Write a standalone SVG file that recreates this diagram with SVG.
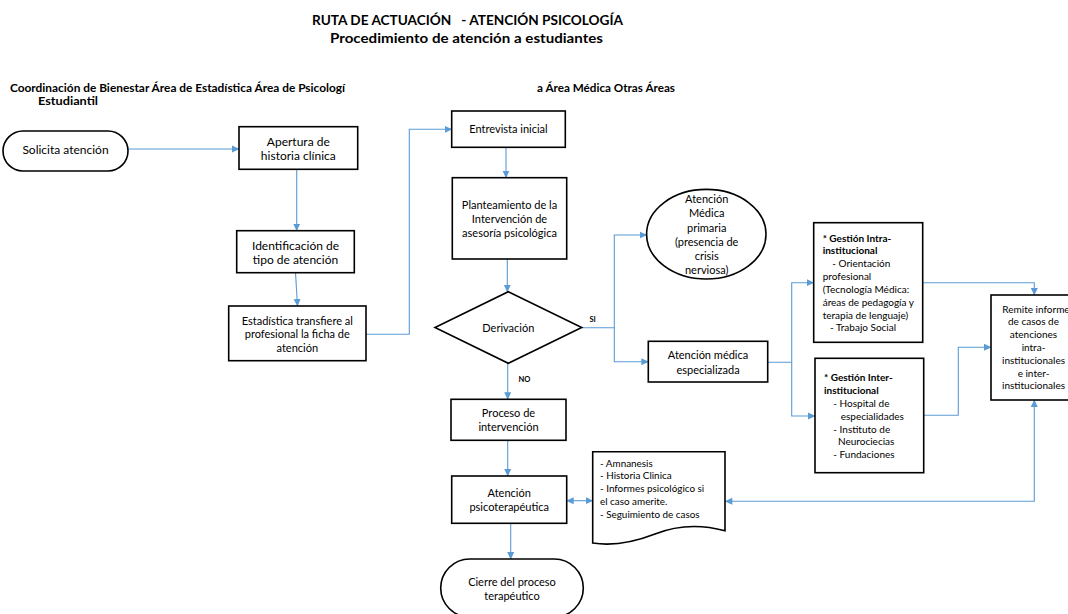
<svg xmlns="http://www.w3.org/2000/svg" width="1068" height="614" viewBox="0 0 1068 614">
  <style>
    text { font-family: Lato, "Liberation Sans", "DejaVu Sans", sans-serif; fill: #000; }
    .t { font-size: 11px; text-anchor: middle; }
    .l { font-size: 12px; text-anchor: middle; }
    .s { font-size: 10px; }
    .d { font-size: 9.9px; }
    .b { font-weight: bold; }
    .title { font-size: 13.5px; font-weight: bold; text-anchor: middle; white-space: pre; }
    .hdr { font-size: 11.5px; font-weight: bold; }
    .lbl { font-size: 7.5px; font-weight: bold; }
    .box { fill: #fff; stroke: #000; stroke-width: 1.6; }
    .con { fill: none; stroke: #5b9bd5; stroke-width: 1.1; }
  </style>
  <defs>
    <marker id="arr" markerWidth="8" markerHeight="8" refX="7" refY="4" orient="auto" markerUnits="userSpaceOnUse">
      <path d="M0,0.5 L7.5,4 L0,7.5 Z" fill="#5b9bd5"/>
    </marker>
    <marker id="arrS" markerWidth="8" markerHeight="8" refX="0.5" refY="4" orient="auto" markerUnits="userSpaceOnUse">
      <path d="M7.5,0.5 L0,4 L7.5,7.5 Z" fill="#5b9bd5"/>
    </marker>
  </defs>

  <rect width="1068" height="614" fill="#fff"/>

  <!-- headings -->
  <g id="titulo">
    <text class="title" x="467.5" y="25" xml:space="preserve" textLength="311" lengthAdjust="spacingAndGlyphs">RUTA DE ACTUACIÓN   - ATENCIÓN PSICOLOGÍA</text>
    <text class="title" x="466.5" y="43" textLength="273" lengthAdjust="spacingAndGlyphs">Procedimiento de atención a estudiantes</text>
  </g>
  <g id="carriles">
    <text class="hdr" x="10" y="92" textLength="335" lengthAdjust="spacingAndGlyphs">Coordinación de Bienestar Área de Estadística Área de Psicologí</text>
    <text class="hdr" x="38" y="105" textLength="60" lengthAdjust="spacingAndGlyphs">Estudiantil</text>
    <text class="hdr" x="537" y="92" textLength="138" lengthAdjust="spacingAndGlyphs">a Área Médica Otras Áreas</text>
  </g>

  <!-- connectors -->
  <g id="conectores">
    <path class="con" d="M128,149 H239" marker-end="url(#arr)"/>
    <path class="con" d="M296.7,169.3 V230.7" marker-end="url(#arr)"/>
    <path class="con" d="M295.5,272.7 L297.5,306" marker-end="url(#arr)"/>
    <path class="con" d="M366,334.3 H409.3 V129.3 H451.7" marker-end="url(#arr)"/>
    <path class="con" d="M506,147.3 V177.7" marker-end="url(#arr)"/>
    <path class="con" d="M507.3,259 V291.7" marker-end="url(#arr)"/>
    <path class="con" d="M581.7,327.7 H614.3 V235 H646.7" marker-end="url(#arr)"/>
    <path class="con" d="M614.3,327.7 V361.7 H648.3" marker-end="url(#arr)"/>
    <path class="con" d="M507.7,363.3 V399.3" marker-end="url(#arr)"/>
    <path class="con" d="M767.7,362.3 H791.7 V282.7 H813.7" marker-end="url(#arr)"/>
    <path class="con" d="M791.7,362.3 V416 H815" marker-end="url(#arr)"/>
    <path class="con" d="M922.7,282.7 H1034.3 V295" marker-end="url(#arr)"/>
    <path class="con" d="M923.7,415.3 H958.3 V347.3 H991" marker-end="url(#arr)"/>
    <path class="con" d="M725.3,501.3 H1034.3 V400" marker-start="url(#arrS)" marker-end="url(#arr)"/>
    <path class="con" d="M507.7,440.3 V476" marker-end="url(#arr)"/>
    <path class="con" d="M566.7,500.7 H592.7" marker-start="url(#arrS)" marker-end="url(#arr)"/>
    <path class="con" d="M510.7,523.3 V559" marker-end="url(#arr)"/>
    <text class="lbl" x="589.5" y="322">SI</text>
    <text class="lbl" x="518.5" y="382">NO</text>
  </g>

  <!-- nodes -->
  <g id="solicita">
    <rect class="box" x="3" y="131" width="125" height="40" rx="20"/>
    <text class="l" x="65.5" y="154">Solicita atención</text>
  </g>
  <g id="apertura">
    <rect class="box" x="239" y="126.7" width="118.7" height="42.6"/>
    <text class="l" x="298.3" y="145.8">Apertura de</text>
    <text class="l" x="298.3" y="160">historia clínica</text>
  </g>
  <g id="identificacion">
    <rect class="box" x="236.7" y="230.7" width="117.6" height="42"/>
    <text class="l" x="295.5" y="250">Identificación de</text>
    <text class="l" x="295.5" y="264.4">tipo de atención</text>
  </g>
  <g id="estadistica">
    <rect class="box" x="228.7" y="306" width="137.3" height="54.7"/>
    <text class="t" x="297.3" y="324.6">Estadística transfiere al</text>
    <text class="t" x="297.3" y="338.2">profesional la ficha de</text>
    <text class="t" x="297.3" y="351.9">atención</text>
  </g>
  <g id="entrevista">
    <rect class="box" x="451.7" y="111" width="113.6" height="36.3"/>
    <text class="t" x="508.5" y="133.2">Entrevista inicial</text>
  </g>
  <g id="planteamiento">
    <rect class="box" x="452.3" y="177.7" width="114.4" height="81.3"/>
    <text class="t" x="509.5" y="208.9">Planteamiento de la</text>
    <text class="t" x="509.5" y="223.2">Intervención de</text>
    <text class="t" x="509.5" y="237.2">asesoría psicológica</text>
  </g>
  <g id="derivacion">
    <path class="box" d="M508.3,291.7 L581.7,327.5 L508.3,363.3 L435,327.5 Z"/>
    <text class="t" x="508.3" y="332.2">Derivación</text>
  </g>
  <g id="atencion-primaria">
    <ellipse class="box" cx="706.3" cy="234.2" rx="59.7" ry="44.8"/>
    <text class="t" x="706.7" y="202.9">Atención</text>
    <text class="t" x="706.7" y="217.2">Médica</text>
    <text class="t" x="706.7" y="232.2">primaria</text>
    <text class="t" x="706.7" y="246.2">(presencia de</text>
    <text class="t" x="706.7" y="260.2">crisis</text>
    <text class="t" x="706.7" y="273.9">nerviosa)</text>
  </g>
  <g id="atencion-especializada">
    <rect class="box" x="648.3" y="341.3" width="119.4" height="40.7"/>
    <text class="t" x="708" y="358.9">Atención médica</text>
    <text class="t" x="708" y="374.2">especializada</text>
  </g>
  <g id="gestion-intra">
    <rect class="box" x="813.7" y="222.7" width="109" height="119.6"/>
    <text class="s b" x="822.7" y="242.2">* Gestión Intra-</text>
    <text class="s b" x="822.7" y="254.2">institucional</text>
    <text class="s" x="832.3" y="267.2">- Orientación</text>
    <text class="s" x="822.7" y="280.2">profesional</text>
    <text class="s" x="822.7" y="293.2">(Tecnología Médica:</text>
    <text class="s" x="822.7" y="306.2">áreas de pedagogía y</text>
    <text class="s" x="822.7" y="318.5">terapia de lenguaje)</text>
    <text class="s" x="830" y="331.2">- Trabajo Social</text>
  </g>
  <g id="gestion-inter">
    <rect class="box" x="815" y="358.3" width="108.7" height="114.4"/>
    <text class="s b" x="824" y="381.2">* Gestión Inter-</text>
    <text class="s b" x="824" y="394.2">institucional</text>
    <text class="s" x="833.3" y="407.2">- Hospital de</text>
    <text class="s" x="840.7" y="420.2">especialidades</text>
    <text class="s" x="833.3" y="433.2">- Instituto de</text>
    <text class="s" x="838" y="445.2">Neurociecias</text>
    <text class="s" x="833.3" y="458.2">- Fundaciones</text>
  </g>
  <g id="remite">
    <rect class="box" x="991" y="295" width="90" height="105"/>
    <text class="s" text-anchor="middle" x="1036" y="312.8">Remite informe</text>
    <text class="s" text-anchor="middle" x="1033.5" y="325.2">de casos de</text>
    <text class="s" text-anchor="middle" x="1033.5" y="338.2">atenciones</text>
    <text class="s" text-anchor="middle" x="1033.5" y="351.2">intra-</text>
    <text class="s" text-anchor="middle" x="1033.5" y="363.8">institucionales</text>
    <text class="s" text-anchor="middle" x="1033.5" y="376.8">e inter-</text>
    <text class="s" text-anchor="middle" x="1033.5" y="389.2">institucionales</text>
  </g>
  <g id="proceso">
    <rect class="box" x="451" y="399.3" width="115" height="41"/>
    <text class="t" x="508.5" y="417.2">Proceso de</text>
    <text class="t" x="508.5" y="430.6">intervención</text>
  </g>
  <g id="psicoterapeutica">
    <rect class="box" x="451.7" y="476" width="115" height="47.3"/>
    <text class="t" x="509.2" y="497.2">Atención</text>
    <text class="t" x="509.2" y="511.2">psicoterapéutica</text>
  </g>
  <g id="registro">
    <path class="box" d="M592.7,451.7 H725 V530.7 C700,524 675,526 655,534 C632,543 612,546 592.7,543 Z"/>
    <text class="d" x="600" y="466.7">- Amnanesis</text>
    <text class="d" x="600" y="479.2">- Historia  Clinica</text>
    <text class="d" x="600" y="491.8">- Informes psicológico si</text>
    <text class="d" x="600" y="504.7">el caso amerite.</text>
    <text class="d" x="600" y="518.2">- Seguimiento de casos</text>
  </g>
  <g id="cierre">
    <rect class="box" x="440.7" y="559" width="142.6" height="58" rx="29"/>
    <text class="t" x="512" y="585.6">Cierre del proceso</text>
    <text class="t" x="512" y="599.9">terapéutico</text>
  </g>
</svg>
